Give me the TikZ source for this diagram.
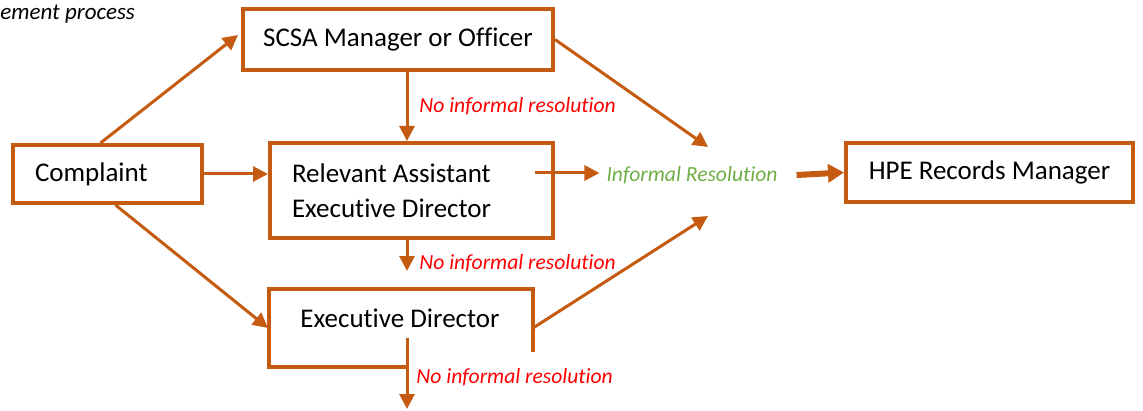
\documentclass[tikz,border=0pt]{standalone}
\usepackage{fontspec}
\setmainfont[Ligatures=NoCommon]{Carlito}
\usetikzlibrary{arrows.meta}
\definecolor{rust}{HTML}{C55A11}
\definecolor{nored}{HTML}{FF0000}
\definecolor{okgreen}{HTML}{70AD47}

\begin{document}
\begin{tikzpicture}
[
x=0.5pt,y=-0.5pt,
box/.style 2 args={draw=rust,line width=2pt,minimum width=#1,minimum height=#2,inner sep=0pt,font=\fontsize{13.5}{17.5}\selectfont},
flow/.style={draw=rust,line width=1.5pt,-{Triangle[length=7.5pt,width=7.5pt]}},
bigflow/.style={draw=rust,line width=3pt,-{Triangle[length=8pt,width=9pt]}},
nores/.style={text=nored,font=\fontsize{10.8}{13}\selectfont\itshape,anchor=west,inner sep=0pt},
]
\useasboundingbox (0,0) rectangle (1143,411);

%Place the nodes
\node[anchor=west,inner sep=0pt,font=\fontsize{11.5}{13}\selectfont\itshape] (caption) at (0,14) {ement process};
\node[box={155pt}{30.5pt}] (scsa) at (398,39.5) {SCSA Manager or Officer};
\node[box={94.5pt}{29pt},text width=72.5pt,align=flush left] (complaint) at (107.5,174) {Complaint};
\node[box={141.5pt}{47.5pt},text width=119.5pt,align=flush left] (aed) at (411.5,190.5) {Relevant Assistant\\Executive Director};
\node[box={143.5pt}{29.5pt}] (hpe) at (989.5,172.5) {HPE Records Manager};
\node[text=okgreen,font=\fontsize{10.8}{13}\selectfont\itshape] (inf) at (692,175) {Informal Resolution};

%Executive Director box is left open at the bottom right
\draw[rust,line width=2pt] (407,367) -- (269,367) -- (269,289) -- (533,289) -- (533,352);
\node[font=\fontsize{13.5}{17.5}\selectfont] (ed) at (400,318) {Executive Director};

%Helper points
\coordinate (col) at (407,0);
\coordinate (edw) at (268,328);
\coordinate (ede) at (533,328);
\coordinate (edstem) at (407,338);
\coordinate (aedout) at (535,173);
\coordinate (aeddown) at (407,271);
\coordinate (eddown) at (407,409);
\coordinate (mergeup) at (708,147);
\coordinate (mergedn) at (708,216);

%Draw the connections
\draw[flow] ([xshift=-3.5pt]complaint.north) -- ([shift={(-1.5pt,2.25pt)}]scsa.west);
\draw[flow] (complaint.east) -- (complaint.east -| aed.west);
\draw[flow] ([xshift=4pt]complaint.south) -- (edw);
\draw[flow] (scsa.south -| col) -- (aed.north -| col);
\draw[flow] (scsa.east) -- (mergeup);
\draw[flow] (aedout) -- (aedout -| inf.west);
\draw[flow] (ede) -- (mergedn);
\draw[bigflow] ([xshift=6pt]inf.east) -- (hpe.west);
\draw[flow] (aed.south -| col) -- (aeddown);
\draw[flow] (edstem) -- (eddown);

%Labels on the downward arrows
\node[nores] (noresa) at (419,106) {No informal resolution};
\node[nores] (noresb) at (419,263) {No informal resolution};
\node[nores] (noresc) at (416,377) {No informal resolution};
\end{tikzpicture}
\end{document}
